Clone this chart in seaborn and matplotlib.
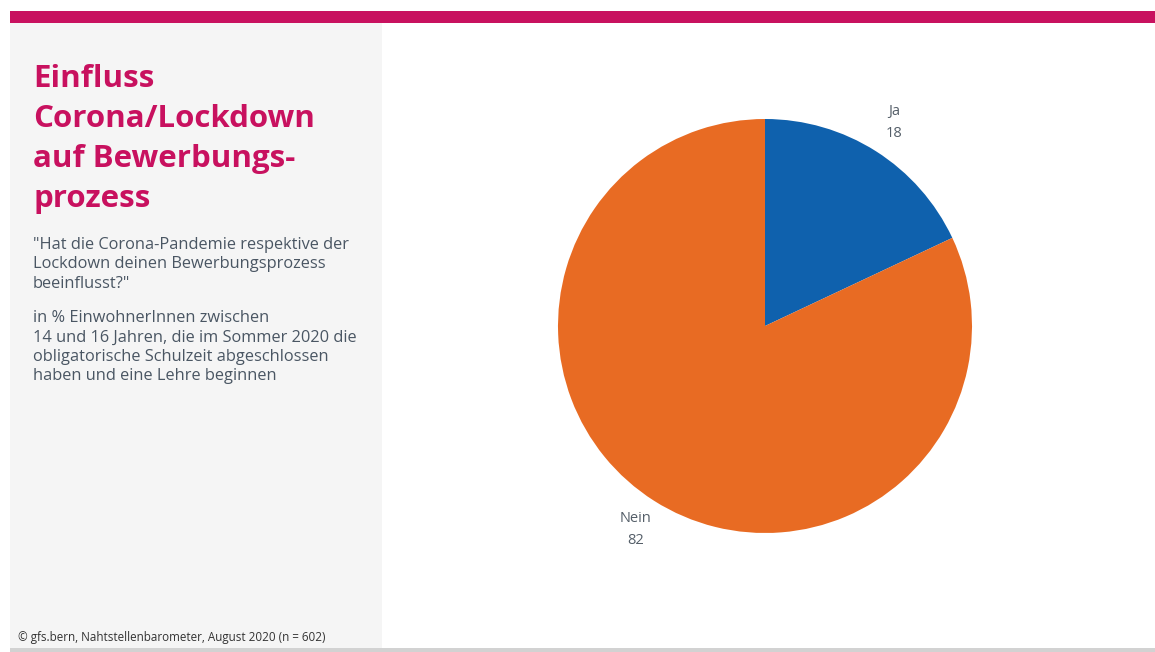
import matplotlib
matplotlib.use("Agg")
import matplotlib.pyplot as plt
from matplotlib.patches import Rectangle
import seaborn as sns

# Survey result
categories = ["Ja", "Nein"]
values = [18, 82]
slice_colors = ["#0f61ad", "#e86b23"]

title_lines = ["Einfluss", "Corona/Lockdown", "auf Bewerbungs-", "prozess"]
question = '"Hat die Corona-Pandemie respektive der\nLockdown deinen Bewerbungsprozess\nbeeinflusst?"'
base_note = ("in % EinwohnerInnen zwischen\n14 und 16 Jahren, die im Sommer 2020 die\n"
             "obligatorische Schulzeit abgeschlossen\nhaben und eine Lehre beginnen")
source = "© gfs.bern, Nahtstellenbarometer, August 2020 (n = 602)"

sns.set_theme(style="white")
plt.rcParams["font.family"] = ["Open Sans", "DejaVu Sans"]

W, H = 1155, 652
fig = plt.figure(figsize=(W / 100, H / 100), dpi=100)
fig.patch.set_facecolor("white")

def px(x, y):
    return x / W, 1 - y / H

# Frame: magenta header band, grey side panel, grey bottom rule
fig.add_artist(Rectangle(px(10, 23), (W - 10) / W, 12 / H, transform=fig.transFigure,
                         facecolor="#c8115f", edgecolor="none"))
fig.add_artist(Rectangle(px(10, 648), 372 / W, 625 / H, transform=fig.transFigure,
                         facecolor="#f5f5f5", edgecolor="none"))
fig.add_artist(Rectangle(px(10, 652), (W - 10) / W, 4 / H, transform=fig.transFigure,
                         facecolor="#d2d2d2", edgecolor="none"))

# Title
for i, line in enumerate(title_lines):
    x, y = px(33, 87 + 40 * i)
    fig.text(x, y, line, color="#c8115f", fontsize=22.5, fontweight="bold",
             va="baseline", ha="left")

text_color = "#4a5663"
x, y = px(33, 237)
fig.text(x, y, question, color=text_color, fontsize=11.8, va="top", ha="left",
         linespacing=1.28)
x, y = px(33, 310)
fig.text(x, y, base_note, color=text_color, fontsize=11.8, va="top", ha="left",
         linespacing=1.28)
x, y = px(18, 637)
fig.text(x, y, source, color="#333333", fontsize=8.4, va="center", ha="left")

# Pie
cx, cy, r = 765, 326, 207
ax = fig.add_axes([(cx - r) / W, (H - cy - r) / H, 2 * r / W, 2 * r / H])
palette = sns.color_palette(slice_colors)
labels = [f"{c}\n{v}" for c, v in zip(categories, values)]
ax.pie(values, labels=labels, colors=palette, startangle=90,
       counterclock=False, labeldistance=1.165,
       wedgeprops=dict(linewidth=0),
       textprops=dict(color="#555f69", fontsize=10.5, ha="center",
                      va="center", linespacing=1.6))
ax.set_xlim(-1, 1)
ax.set_ylim(-1, 1)
ax.set_aspect("equal")
ax.axis("off")

fig.savefig("out.png", dpi=100, facecolor="white")
